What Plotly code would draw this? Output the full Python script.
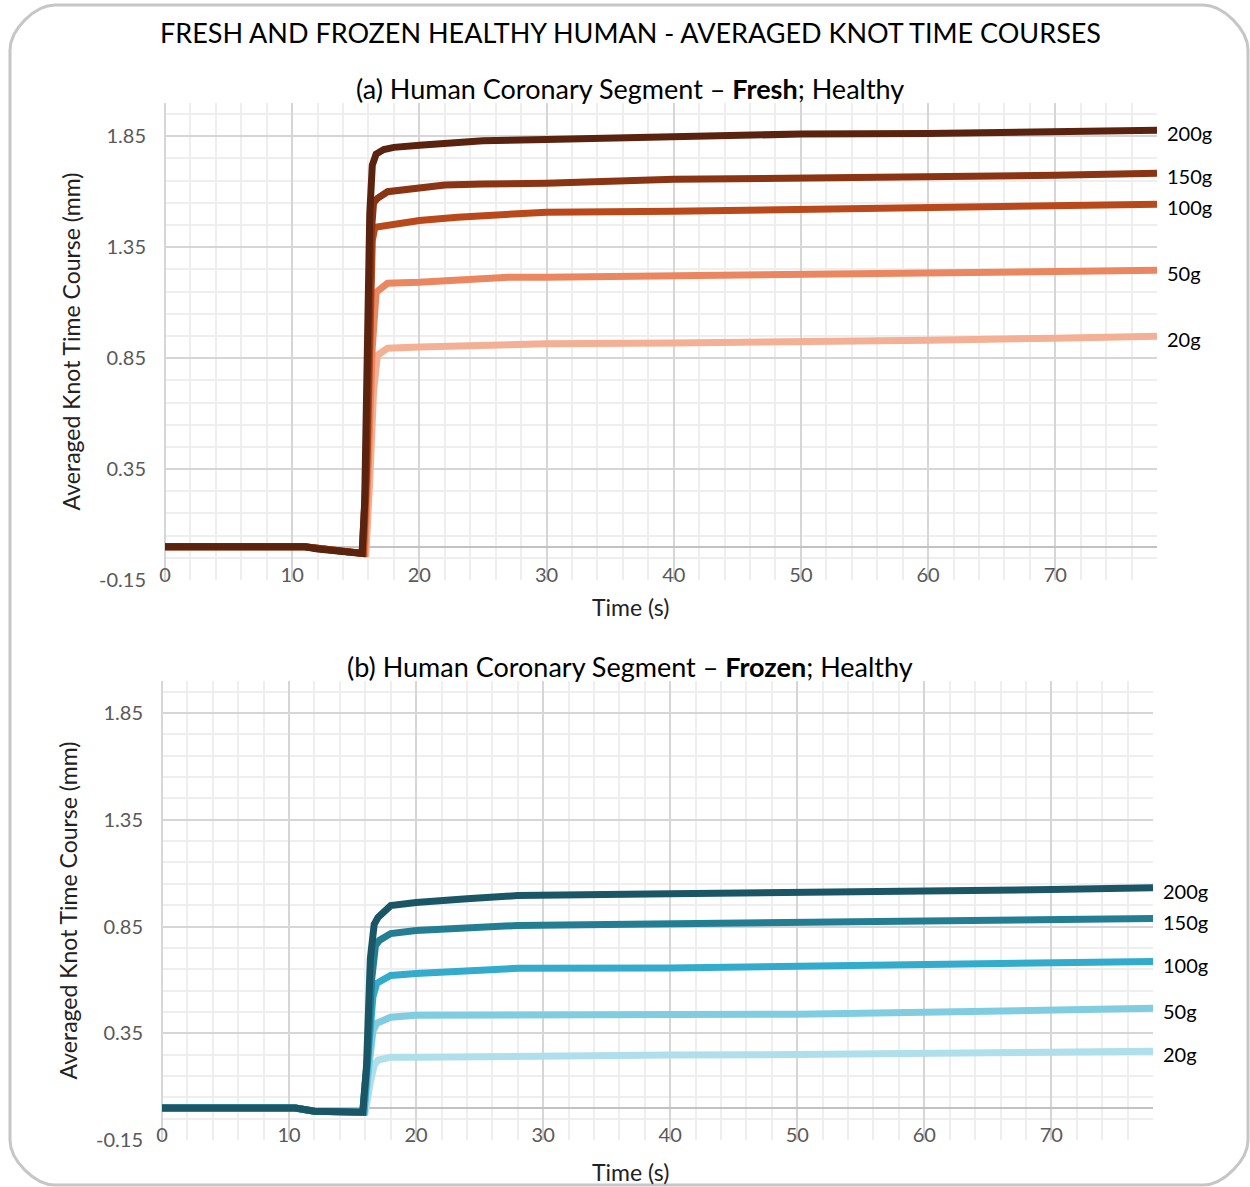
import plotly.graph_objects as go

W, H = 1250, 1187

# ---------------- data ----------------
load_labels = ["200g", "150g", "100g", "50g", "20g"]

# (a) Fresh
fresh_t_200 = [0, 11, 12, 14, 15.5, 15.7, 15.9, 16.1, 16.3, 16.6, 17.2, 18, 20, 25, 30, 40, 50, 60, 70, 78]
fresh_v_200 = [0, 0, -0.01, -0.02, -0.03, 0.2, 0.9, 1.5, 1.72, 1.77, 1.79, 1.80, 1.81, 1.83, 1.836, 1.85, 1.86, 1.862, 1.87, 1.877]

fresh_t_150 = [0, 11, 14, 15.5, 15.8, 16.0, 16.2, 16.4, 16.7, 17.5, 20, 22, 25, 30, 40, 50, 60, 70, 78]
fresh_v_150 = [0, 0, -0.02, -0.03, 0.3, 0.9, 1.4, 1.55, 1.57, 1.60, 1.616, 1.63, 1.635, 1.638, 1.656, 1.66, 1.665, 1.674, 1.683]

fresh_t_100 = [0, 11, 14, 15.6, 15.9, 16.1, 16.3, 16.5, 17.5, 20, 23, 27, 30, 40, 50, 60, 70, 78]
fresh_v_100 = [0, 0, -0.02, -0.03, 0.4, 1.0, 1.38, 1.44, 1.449, 1.47, 1.485, 1.50, 1.508, 1.512, 1.52, 1.53, 1.54, 1.544]

fresh_t_50 = [0, 11, 14, 15.7, 16.0, 16.3, 16.6, 17.5, 20, 27, 30, 40, 50, 60, 70, 78]
fresh_v_50 = [0, 0, -0.02, -0.03, 0.4, 0.9, 1.147, 1.188, 1.192, 1.215, 1.215, 1.22, 1.224, 1.233, 1.24, 1.246]

fresh_t_20 = [0, 11, 14, 15.8, 16.1, 16.4, 16.7, 17.5, 20, 27, 30, 40, 50, 60, 70, 78]
fresh_v_20 = [0, 0, -0.02, -0.03, 0.3, 0.7, 0.863, 0.895, 0.90, 0.915, 0.915, 0.918, 0.922, 0.931, 0.94, 0.949]

# (b) Frozen
frozen_t_200 = [0, 10.5, 12, 14, 15.8, 16.1, 16.4, 16.7, 17.0, 18.0, 20, 24, 28, 40, 50, 60, 70, 78]
frozen_v_200 = [0, 0, -0.015, -0.02, -0.02, 0.2, 0.7, 0.86, 0.892, 0.948, 0.962, 0.98, 0.995, 1.004, 1.009, 1.018, 1.023, 1.032]

frozen_t_150 = [0, 10.5, 12, 14, 15.8, 16.2, 16.5, 16.8, 17.1, 18.0, 20, 28, 40, 50, 60, 70, 78]
frozen_v_150 = [0, 0, -0.015, -0.02, -0.02, 0.25, 0.6, 0.76, 0.785, 0.817, 0.831, 0.855, 0.864, 0.869, 0.873, 0.883, 0.887]

frozen_t_100 = [0, 10.5, 12, 14, 15.9, 16.3, 16.6, 16.9, 18.0, 20, 28, 40, 50, 60, 70, 78]
frozen_v_100 = [0, 0, -0.015, -0.02, -0.02, 0.3, 0.52, 0.584, 0.621, 0.63, 0.654, 0.656, 0.663, 0.672, 0.682, 0.686]

frozen_t_50 = [0, 10.5, 12, 14, 15.9, 16.3, 16.6, 16.9, 18, 20, 28, 40, 50, 60, 70, 78]
frozen_v_50 = [0, 0, -0.015, -0.02, -0.02, 0.2, 0.36, 0.397, 0.425, 0.434, 0.434, 0.434, 0.439, 0.448, 0.457, 0.467]

frozen_t_20 = [0, 10.5, 12, 14, 16.0, 16.4, 16.7, 17.0, 18, 20, 28, 40, 50, 60, 70, 78]
frozen_v_20 = [0, 0, -0.015, -0.02, -0.02, 0.12, 0.2, 0.224, 0.238, 0.238, 0.245, 0.248, 0.25, 0.255, 0.262, 0.266]

y_tick_values = [-0.15, 0.35, 0.85, 1.35, 1.85]
x_tick_values = [0, 10, 20, 30, 40, 50, 60, 70]

# ---------------- styles ----------------
fresh_colors = ["#5a230f", "#8a3413", "#b9491b", "#ea8760", "#f3b095"]
frozen_colors = ["#1b5667", "#237e94", "#33abcc", "#80cde1", "#afdfeb"]
FONT = "Lato"
TICK_GRAY = "#595959"

fresh_series = [(fresh_t_200, fresh_v_200), (fresh_t_150, fresh_v_150), (fresh_t_100, fresh_v_100),
                (fresh_t_50, fresh_v_50), (fresh_t_20, fresh_v_20)]
frozen_series = [(frozen_t_200, frozen_v_200), (frozen_t_150, frozen_v_150), (frozen_t_100, frozen_v_100),
                 (frozen_t_50, frozen_v_50), (frozen_t_20, frozen_v_20)]

fig = go.Figure()

annotations = []
for series, colors, xa, ya in [(fresh_series, fresh_colors, "x", "y"),
                               (frozen_series, frozen_colors, "x2", "y2")]:
    # draw light ones first so dark ones are on top
    for i in reversed(range(len(series))):
        t, v = series[i]
        fig.add_trace(go.Scatter(x=t, y=v, mode="lines", xaxis=xa, yaxis=ya,
                                 line=dict(color=colors[i], width=7),
                                 name=load_labels[i], showlegend=False,
                                 hoverinfo="x+y+name"))
        annotations.append(dict(x=t[-1], y=v[-1], xref=xa, yref=ya, text=load_labels[i],
                                showarrow=False, xanchor="left", yanchor="middle",
                                xshift=8, yshift=-3,
                                font=dict(family=FONT, size=20, color="black")))


def px_x(p):
    return p / W


def px_y(p):
    return 1 - p / H


def xaxis_style(domain, anchor):
    return dict(domain=domain, anchor=anchor, range=[0, 78],
                tickmode="array", tickvals=x_tick_values, ticktext=[str(v) for v in x_tick_values],
                showgrid=True, gridcolor="#d6d6d6", gridwidth=2,
                minor=dict(dtick=2, tick0=0, showgrid=True, gridcolor="#eeeeee", gridwidth=1.5),
                zeroline=True, zerolinecolor="#d6d6d6", zerolinewidth=2,
                showline=False, ticks="",
                tickfont=dict(family=FONT, size=20, color=TICK_GRAY),
                ticklabelstandoff=-19,
                automargin=False, fixedrange=True)


def yaxis_style(domain, anchor):
    return dict(domain=domain, anchor=anchor, range=[-0.15, 2.0],
                tickmode="array", tickvals=y_tick_values,
                ticktext=[f"{v:.2f}" for v in y_tick_values],
                showgrid=True, gridcolor="#d6d6d6", gridwidth=2,
                minor=dict(dtick=0.1, tick0=y_tick_values[0], showgrid=True, gridcolor="#eeeeee", gridwidth=1.5),
                zeroline=True, zerolinecolor="#c2c2c2", zerolinewidth=2,
                showline=False, ticks="",
                tickfont=dict(family=FONT, size=20, color=TICK_GRAY),
                ticklabelstandoff=18,
                title=dict(text="Averaged Knot Time Course (mm)",
                           font=dict(family=FONT, size=23, color="#222222"), standoff=11),
                automargin=False, fixedrange=True)


layout_kwargs = dict(
    xaxis=xaxis_style([px_x(165), px_x(1157)], "y"),
    yaxis=yaxis_style([px_y(580), px_y(103)], "x"),
    xaxis2=xaxis_style([px_x(162), px_x(1153)], "y2"),
    yaxis2=yaxis_style([px_y(1140), px_y(681)], "x2"),
)

annotations += [
    dict(text="FRESH AND FROZEN HEALTHY HUMAN - AVERAGED KNOT TIME COURSES",
         x=px_x(630), y=px_y(32), xref="paper", yref="paper", showarrow=False,
         xanchor="center", yanchor="middle", font=dict(family=FONT, size=27, color="black")),
    dict(text="(a) Human Coronary Segment – <b>Fresh</b>; Healthy",
         x=px_x(630), y=px_y(88), xref="paper", yref="paper", showarrow=False,
         xanchor="center", yanchor="middle", font=dict(family=FONT, size=27, color="black")),
    dict(text="(b) Human Coronary Segment – <b>Frozen</b>; Healthy",
         x=px_x(630), y=px_y(666), xref="paper", yref="paper", showarrow=False,
         xanchor="center", yanchor="middle", font=dict(family=FONT, size=27, color="black")),
    dict(text="Time (s)", x=px_x(630), y=px_y(607), xref="paper", yref="paper", showarrow=False,
         xanchor="center", yanchor="middle", font=dict(family=FONT, size=23, color="#222222")),
    dict(text="Time (s)", x=px_x(630), y=px_y(1172), xref="paper", yref="paper", showarrow=False,
         xanchor="center", yanchor="middle", font=dict(family=FONT, size=23, color="#222222")),
]

# rounded frame around the whole figure
bx0, bx1, by0, by1, r = 10, 1248, 5, 1185, 45
k = 0.45 * r


def P(x, y):
    return f"{px_x(x):.5f},{px_y(y):.5f}"


frame = (f"M {P(bx0 + r, by0)} L {P(bx1 - r, by0)} "
         f"C {P(bx1 - r + k, by0)} {P(bx1, by0 + r - k)} {P(bx1, by0 + r)} "
         f"L {P(bx1, by1 - r)} "
         f"C {P(bx1, by1 - r + k)} {P(bx1 - r + k, by1)} {P(bx1 - r, by1)} "
         f"L {P(bx0 + r, by1)} "
         f"C {P(bx0 + r - k, by1)} {P(bx0, by1 - r + k)} {P(bx0, by1 - r)} "
         f"L {P(bx0, by0 + r)} "
         f"C {P(bx0, by0 + r - k)} {P(bx0 + r - k, by0)} {P(bx0 + r, by0)} Z")

fig.update_layout(
    width=W, height=H,
    margin=dict(l=0, r=0, t=0, b=0),
    paper_bgcolor="white", plot_bgcolor="white",
    font=dict(family=FONT),
    showlegend=False,
    annotations=annotations,
    shapes=[dict(type="path", path=frame, xref="paper", yref="paper",
                 line=dict(color="#c6c6c6", width=3), layer="below")],
    **layout_kwargs,
)

fig.write_html("out.html")
